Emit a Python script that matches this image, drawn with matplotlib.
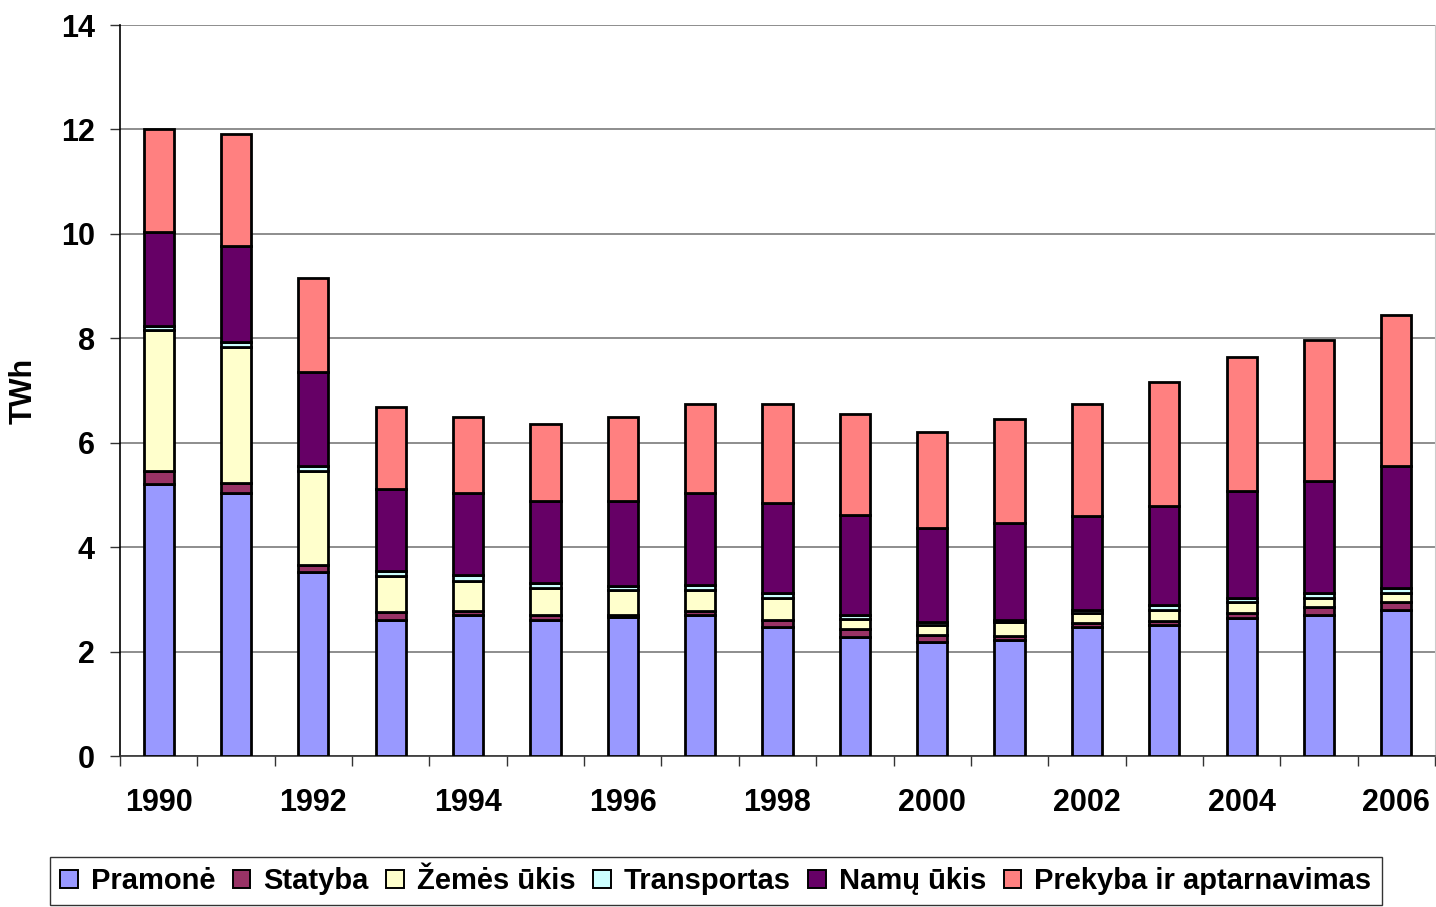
import matplotlib.pyplot as plt
from matplotlib.patches import Patch
import numpy as np

plt.rcParams['font.family'] = ['Liberation Sans', 'DejaVu Sans']
plt.rcParams['font.weight'] = 'bold'

# data (TWh)
years = [str(y) for y in range(1990, 2007)]
pramone = [5.21, 5.04, 3.52, 2.61, 2.70, 2.61, 2.66, 2.70, 2.47, 2.27, 2.18, 2.23, 2.47, 2.51, 2.65, 2.70, 2.80]
statyba = [0.25, 0.19, 0.14, 0.15, 0.08, 0.09, 0.04, 0.08, 0.14, 0.16, 0.14, 0.07, 0.08, 0.08, 0.08, 0.15, 0.14]
zemes_ukis = [2.70, 2.61, 1.80, 0.69, 0.58, 0.52, 0.48, 0.40, 0.42, 0.19, 0.19, 0.26, 0.18, 0.21, 0.21, 0.18, 0.19]
transportas = [0.08, 0.09, 0.10, 0.10, 0.10, 0.09, 0.08, 0.09, 0.09, 0.08, 0.06, 0.05, 0.07, 0.09, 0.09, 0.10, 0.09]
namu_ukis = [1.80, 1.84, 1.80, 1.57, 1.57, 1.58, 1.63, 1.76, 1.72, 1.91, 1.79, 1.85, 1.80, 1.90, 2.05, 2.14, 2.34]
prekyba = [1.97, 2.15, 1.80, 1.57, 1.47, 1.47, 1.61, 1.71, 1.90, 1.94, 1.85, 1.99, 2.14, 2.38, 2.56, 2.70, 2.89]

series = [pramone, statyba, zemes_ukis, transportas, namu_ukis, prekyba]
labels = ['Pramonė', 'Statyba', 'Žemės ūkis', 'Transportas', 'Namų ūkis', 'Prekyba ir aptarnavimas']
colors = ['#9999FF', '#993366', '#FFFFCC', '#CCFFFF', '#660066', '#FF8080']

fig = plt.figure(figsize=(14.36, 9.07), dpi=100)
ax = fig.add_axes([120 / 1436, 1 - 756 / 907, 1315 / 1436, 731 / 907])

x = np.arange(len(years))
bottom = np.zeros(len(years))
for vals, col in zip(series, colors):
    ax.bar(x, vals, width=0.39, bottom=bottom, color=col, edgecolor='black',
           linewidth=2.0, zorder=3)
    bottom += np.array(vals)

ax.set_xlim(-0.5, len(years) - 0.5)
ax.set_ylim(0, 14)
ax.set_yticks(range(0, 15, 2))
ax.yaxis.grid(True, color='#7a7a7a', linewidth=1.2, zorder=0)

ax.set_xticks(x[::2])
ax.set_xticklabels(years[::2])
ax.set_xticks(np.arange(-0.5, len(years), 1), minor=True)
ax.tick_params(axis='x', which='major', length=0, pad=23, labelsize=22)
ax.tick_params(axis='x', which='minor', length=7, width=1, color='#333333', direction='out')
ax.tick_params(axis='y', length=7, width=1, color='#333333', pad=11, labelsize=22)

ax.spines['top'].set_visible(False)
ax.spines['right'].set_color('#cccccc')
ax.spines['left'].set_linewidth(1.2)
ax.spines['bottom'].set_linewidth(1.2)
ax.spines['bottom'].set_color('#333333')

ax.set_ylabel('TWh', fontsize=22, fontweight='bold', labelpad=16)

handles = [Patch(facecolor=c, edgecolor='black', linewidth=1.4) for c in colors]
leg = fig.legend(handles, labels, loc='upper left', bbox_to_anchor=(50 / 1436, 1 - 857 / 907),
                 ncol=6, frameon=True, fancybox=False, edgecolor='black', fontsize=21,
                 handlelength=0.6, handleheight=0.6, handletextpad=0.45, columnspacing=0.6,
                 borderpad=0.35, borderaxespad=0)
leg.get_frame().set_linewidth(1.0)

plt.savefig('out.png', dpi=100)
